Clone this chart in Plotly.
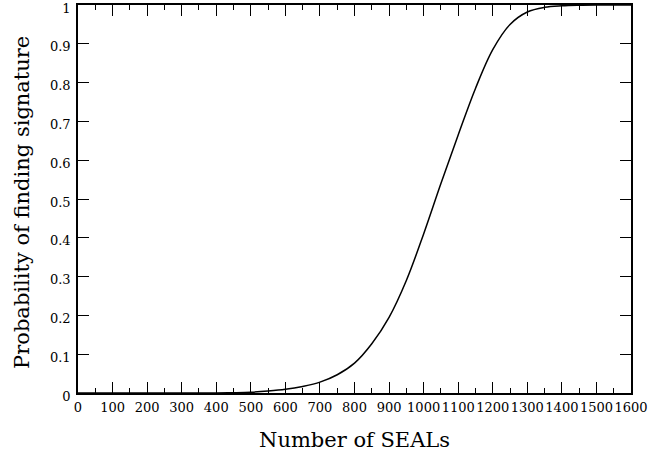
import plotly.graph_objects as go

n_seals = [0, 100, 200, 300, 400, 450, 500, 550, 600, 650, 700, 750, 800, 850, 900,
           950, 1000, 1050, 1100, 1150, 1200, 1250, 1300, 1350, 1400, 1450, 1500, 1550, 1600]
probability = [0, 0, 0, 0, 0.0002, 0.0008, 0.002, 0.005, 0.0095, 0.017, 0.028, 0.047, 0.077,
               0.127, 0.195, 0.290, 0.410, 0.540, 0.665, 0.785, 0.885, 0.950, 0.982, 0.994,
               0.998, 0.9995, 1.0, 1.0, 1.0]

x_ticks = list(range(0, 1601, 100))
y_ticks = [0, 0.1, 0.2, 0.3, 0.4, 0.5, 0.6, 0.7, 0.8, 0.9, 1]
y_tick_labels = ["0", "0.1", "0.2", "0.3", "0.4", "0.5", "0.6", "0.7", "0.8", "0.9", "1"]

font_family = "DejaVu Serif, Liberation Serif, serif"

fig = go.Figure()
fig.add_trace(go.Scatter(x=n_seals, y=probability, mode="lines",
                         line=dict(color="black", width=1.5, shape="spline", smoothing=1.0),
                         showlegend=False, hoverinfo="skip"))

axis_common = dict(
    ticks="inside", ticklen=11, tickwidth=1, tickcolor="black",
    showline=True, linecolor="black", linewidth=1.5, mirror="allticks",
    showgrid=False, zeroline=False, automargin=False,
    ticklabeloverflow="allow", tickangle=0,
    tickfont=dict(size=13, family=font_family, color="black"),
)

fig.update_layout(
    width=658, height=453,
    margin=dict(l=78, r=27, t=5, b=60),
    paper_bgcolor="white", plot_bgcolor="white",
    font=dict(family=font_family, color="black", size=13),
    xaxis=dict(
        range=[0, 1600], tickvals=x_ticks, ticktext=[str(v) for v in x_ticks],
        minor=dict(dtick=50, tick0=0, ticks="inside", ticklen=5, tickwidth=1, tickcolor="black"),
        ticklabelstandoff=2,
        **axis_common,
    ),
    yaxis=dict(
        range=[0, 1], tickvals=y_ticks, ticktext=y_tick_labels,
        ticklabelstandoff=3, ticklabelshift=3,
        **axis_common,
    ),
    annotations=[
        dict(text="Number of SEALs", xref="paper", yref="paper", x=0.5, y=0,
             xanchor="center", yanchor="middle", yshift=-47, showarrow=False,
             font=dict(size=21, family=font_family, color="black")),
        dict(text="Probability of finding signature", xref="paper", yref="paper", x=0, y=0.49,
             xanchor="center", yanchor="middle", xshift=-56, textangle=-90, showarrow=False,
             font=dict(size=21, family=font_family, color="black")),
    ],
)

fig.write_html("out.html", config={"displayModeBar": False},
               post_script="document.body.style.margin='0';")
